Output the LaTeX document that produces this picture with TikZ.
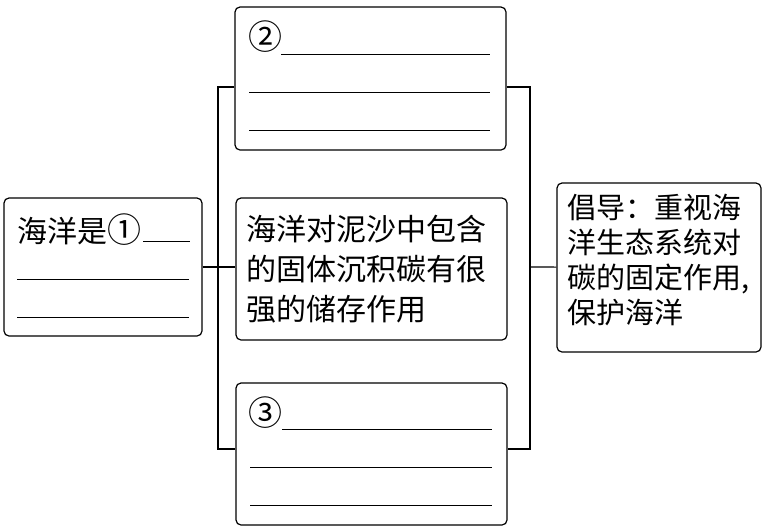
\documentclass[tikz,border=0pt]{standalone}
\usepackage{fontspec}
\newfontfamily\cjk{Noto Sans CJK SC}
\newcommand{\circnum}[1]{{\fontsize{34}{40}\selectfont #1}}
\usetikzlibrary{positioning}

\begin{document}
\begin{tikzpicture}[x=1pt, y=-1pt, line width=1.2pt,
    every node/.style={font=\cjk\fontsize{30}{40}\selectfont, inner sep=0pt}]
  \tikzset{box/.style={draw, rounded corners=5pt},
           blank/.style={line width=1pt}}
  \useasboundingbox (0,0) rectangle (765,528);
  % boxes
  \node[box, minimum width=198pt, minimum height=138pt] (sea) at (103,267) {};
  \node[box, minimum width=271pt, minimum height=143pt] (two) at (370.5,78.5) {};
  \node[box, minimum width=271pt, minimum height=142pt, text width=250pt, align=left]
    (store) at (371.5,269) {海洋对泥沙中包含\\的固体沉积碳有很\\强的储存作用};
  \node[box, minimum width=271pt, minimum height=142pt] (three) at (371.5,454) {};
  \node[box, minimum width=204pt, minimum height=169pt, text width=184pt, align=left,
    font=\cjk\fontsize{29}{35}\selectfont]
    (call) at (659,267.5) {倡导：重视海\\洋生态系统对\\碳的固定作用,\\保护海洋\rule[-18pt]{0pt}{18pt}};
  % blanks
  \node[anchor=west] (one) at (17,230) {海洋是\circnum{①}};
  \node[anchor=west] (n2) at (248,37) {\circnum{②}};
  \node[anchor=west] (n3) at (248,413) {\circnum{③}};
  \draw[blank] (143,241) -- (190,241);
  \draw[blank] (17,279) -- (189,279);
  \draw[blank] (17,317) -- (189,317);
  \draw[blank] (281,54) -- (490,54);
  \draw[blank] (249,92) -- (490,92);
  \draw[blank] (249,130) -- (490,130);
  \draw[blank] (282,429) -- (492,429);
  \draw[blank] (250,467) -- (492,467);
  \draw[blank] (250,505) -- (492,505);
  % connectors
  \coordinate (lbar) at (218,267);
  \coordinate (rbar) at (530,267);
  \draw (sea) -- (lbar);
  \draw ([yshift=-8.5pt]two.west) -| (lbar) |- ([yshift=5pt]three.west);
  \draw (lbar) -- (lbar -| store.west);
  \draw ([yshift=-8.5pt]two.east) -| (rbar) |- ([yshift=5pt]three.east);
  \draw (rbar) -- (call);
\end{tikzpicture}
\end{document}
